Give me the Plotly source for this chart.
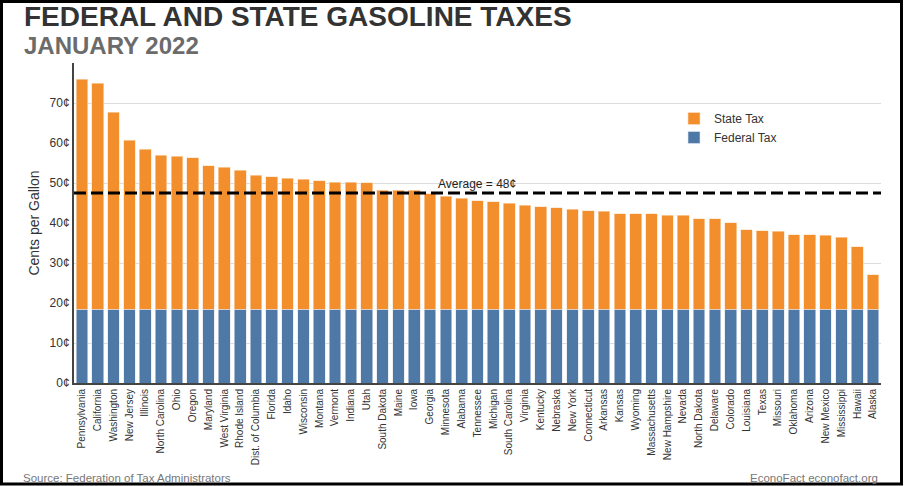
import plotly.graph_objects as go

# Gasoline taxes by state, January 2022 (cents per gallon)
states = [
    'Pennsylvania', 'California', 'Washington', 'New Jersey', 'Illinois',
    'North Carolina', 'Ohio', 'Oregon', 'Maryland', 'West Virginia',
    'Rhode Island', 'Dist. of Columbia', 'Florida', 'Idaho', 'Wisconsin',
    'Montana', 'Vermont', 'Indiana', 'Utah', 'South Dakota', 'Maine', 'Iowa',
    'Georgia', 'Minnesota', 'Alabama', 'Tennessee', 'Michigan',
    'South Carolina', 'Virginia', 'Kentucky', 'Nebraska', 'New York',
    'Connecticut', 'Arkansas', 'Kansas', 'Wyoming', 'Massachusetts',
    'New Hampshire', 'Nevada', 'North Dakota', 'Delaware', 'Colorado',
    'Louisiana', 'Texas', 'Missouri', 'Oklahoma', 'Arizona', 'New Mexico',
    'Mississippi', 'Hawaii', 'Alaska'
]
federal_tax = [18.4] * len(states)
state_tax = [
    57.6, 56.5, 49.3, 42.3, 40.1, 38.5, 38.3, 37.9, 35.9, 35.6,
    34.8, 33.6, 33.2, 32.8, 32.6, 32.2, 31.8, 31.8, 31.7, 29.8,
    29.8, 29.8, 28.9, 28.3, 27.8, 27.2, 26.9, 26.5, 26.0, 25.7,
    25.4, 25.1, 24.7, 24.5, 23.9, 23.9, 23.9, 23.6, 23.6, 22.7,
    22.7, 21.7, 19.9, 19.7, 19.6, 18.7, 18.7, 18.5, 18.1, 15.7,
    8.7
]
y_ticks = [0, 10, 20, 30, 40, 50, 60, 70]
y_tick_text = ['0¢', '10¢', '20¢', '30¢', '40¢', '50¢', '60¢', '70¢']
average_total = 47.5
average_label = 'Average = 48¢'

ORANGE = '#F28E2B'
BLUE = '#4E79A7'
FONT = 'Liberation Sans, Arial, sans-serif'

fig = go.Figure()
fig.add_trace(go.Bar(
    x=states, y=federal_tax, name='Federal Tax',
    marker=dict(color=BLUE, line=dict(color='#dfe6ef', width=0.6))
))
fig.add_trace(go.Bar(
    x=states, y=state_tax, name='State Tax',
    marker=dict(color=ORANGE, line=dict(color='#fbe0c4', width=0.6))
))

# plot area: x 74..881, y 63..383 (px)
PW, PH = 807, 320
L, T = 74, 63

def px_x(x):
    return (x - L) / PW

def px_y(y):
    return (T + PH - y) / PH

fig.update_layout(
    barmode='stack',
    bargap=0.26,
    width=904, height=486,
    margin=dict(l=L, r=904 - L - PW, t=T, b=486 - T - PH, autoexpand=False),
    paper_bgcolor='white',
    plot_bgcolor='white',
    font=dict(family=FONT, color='#333333', size=11),
    showlegend=True,
    legend=dict(
        x=px_x(674), y=px_y(104), xanchor='left', yanchor='top',
        traceorder='reversed', bgcolor='rgba(0,0,0,0)',
        font=dict(size=12, color='#333333'),
        itemwidth=30, tracegroupgap=0
    ),
)

fig.update_yaxes(
    range=[0, 80], tickvals=y_ticks, ticktext=y_tick_text,
    showgrid=False, zeroline=False,
    minor=dict(tick0=10, dtick=20, showgrid=True, gridcolor='#dcdcdc', gridwidth=1),
    showline=True, linecolor='#444444', linewidth=2,
    tickfont=dict(size=12, color='#333333'),
    title=dict(text='Cents per Gallon', font=dict(size=14, color='#333333'), standoff=7),
    automargin=False, fixedrange=True
)
fig.update_xaxes(
    tickangle=-90, tickfont=dict(size=10, color='#333333'),
    showline=True, linecolor='#444444', linewidth=2,
    showgrid=False, range=[-0.5, len(states) - 0.5],
    automargin=False, fixedrange=True
)

# average line
fig.add_shape(
    type='line', xref='paper', yref='y', x0=0, x1=1,
    y0=average_total, y1=average_total,
    line=dict(color='black', width=3, dash='12px,5px')
)
fig.add_annotation(
    xref='paper', yref='y', x=px_x(436), y=average_total,
    text=average_label, showarrow=False, xanchor='left', yanchor='bottom',
    yshift=0, font=dict(size=12, color='#222222')
)

# titles and footer
fig.add_annotation(
    xref='paper', yref='paper', x=px_x(22), y=px_y(17),
    text='<b>FEDERAL AND STATE GASOLINE TAXES</b>', showarrow=False,
    xanchor='left', yanchor='middle',
    font=dict(size=28, color='#333333', family=FONT)
)
fig.add_annotation(
    xref='paper', yref='paper', x=px_x(22), y=px_y(46),
    text='<b>JANUARY 2022</b>', showarrow=False,
    xanchor='left', yanchor='middle',
    font=dict(size=24, color='#6b6b6b', family=FONT)
)
fig.add_annotation(
    xref='paper', yref='paper', x=px_x(21), y=px_y(478),
    text='Source: Federation of Tax Administrators', showarrow=False,
    xanchor='left', yanchor='middle',
    font=dict(size=11.5, color='#777777')
)
fig.add_annotation(
    xref='paper', yref='paper', x=px_x(880), y=px_y(478),
    text='EconoFact econofact.org', showarrow=False,
    xanchor='right', yanchor='middle',
    font=dict(size=11.5, color='#777777')
)

# black frame around the whole picture
fig.add_shape(
    type='rect', xref='paper', yref='paper',
    x0=px_x(1.5), x1=px_x(901.5), y0=px_y(484), y1=px_y(1.5),
    line=dict(color='black', width=3), fillcolor='rgba(0,0,0,0)'
)

# page body has a default 8px margin; drop it so the figure sits at the corner
fig.write_html(
    'out.html',
    config={'displayModeBar': False},
    post_script="document.body.style.margin='0';"
)
